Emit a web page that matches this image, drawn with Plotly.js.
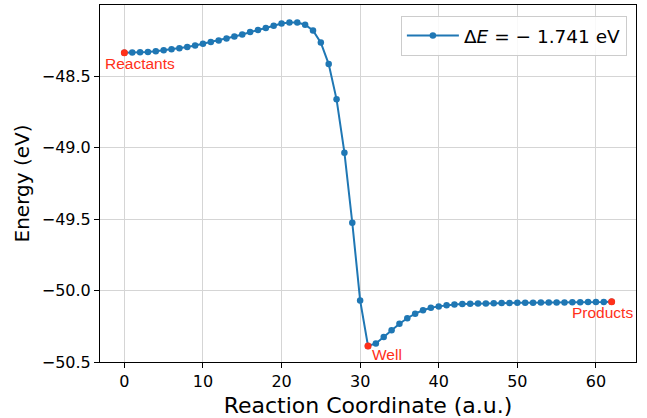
<!DOCTYPE html>
<html>
<head>
<meta charset="utf-8">
<script src="https://cdn.plot.ly/plotly-3.0.1.min.js"></script>
<style>html,body{margin:0;padding:0;background:#fff;}</style>
</head>
<body>
<div id="chart" style="width:647px;height:418px;"></div>
<script>
const coord = [];
for (let i = 0; i <= 62; i++) coord.push(i);

const energy = [
  -48.337, -48.336, -48.334, -48.332, -48.327, -48.320, -48.313, -48.306, -48.297, -48.286,
  -48.274, -48.262, -48.251, -48.237, -48.223, -48.209, -48.192, -48.178, -48.164, -48.148,
  -48.133, -48.125, -48.125, -48.141, -48.181, -48.266, -48.416, -48.663, -49.036, -49.526,
  -50.069, -50.388, -50.370, -50.325, -50.278, -50.232, -50.194, -50.162, -50.138, -50.121,
  -50.111, -50.103, -50.098, -50.095, -50.093, -50.091, -50.090, -50.089, -50.088, -50.087,
  -50.086, -50.085, -50.085, -50.084, -50.084, -50.083, -50.083, -50.082, -50.082, -50.081,
  -50.081, -50.080, -50.078
];

const specialIdx = [0, 31, 62];
const specialLabels = ["Reactants", "Well", "Products"];
const legendLabel = "Δ<i>E</i> = − 1.741 eV";
const xTitle = "Reaction Coordinate (a.u.)";
const yTitle = "Energy (eV)";
const yTickVals = [-48.5, -49.0, -49.5, -50.0, -50.5];
const yTickText = ["−48.5", "−49.0", "−49.5", "−50.0", "−50.5"];
const xTickVals = [0, 10, 20, 30, 40, 50, 60];

const blue = "#1f77b4";
const red = "#ff3019";

const traces = [
  {
    x: coord, y: energy, type: "scatter", mode: "lines+markers",
    name: legendLabel,
    line: {color: blue, width: 2},
    marker: {color: blue, size: 6.5},
    showlegend: true
  },
  {
    x: specialIdx.map(i => coord[i]), y: specialIdx.map(i => energy[i]),
    type: "scatter", mode: "markers",
    marker: {color: red, size: 7},
    showlegend: false, hoverinfo: "skip"
  }
];

const shifts = [[16, -10.5], [19, -9], [-9, -11]];
const annotations = specialIdx.map((i, k) => ({
  x: coord[i], y: energy[i], xref: "x", yref: "y",
  text: specialLabels[k], showarrow: false,
  xanchor: "center", yanchor: "middle",
  xshift: shifts[k][0], yshift: shifts[k][1],
  font: {family: "Liberation Sans, Arial, sans-serif", size: 15.5, color: red}
}));

const axisCommon = {
  showline: true, mirror: true, linecolor: "#000", linewidth: 1,
  ticks: "outside", ticklen: 5, tickwidth: 1, tickcolor: "#000",
  showgrid: true, gridcolor: "#d5d5d5", gridwidth: 1,
  zeroline: false, automargin: false,
  tickfont: {family: "DejaVu Sans, sans-serif", size: 16, color: "#000"}
};

const layout = {
  width: 647, height: 418,
  margin: {l: 100, r: 11, t: 5, b: 56},
  paper_bgcolor: "#fff", plot_bgcolor: "#fff",
  font: {family: "DejaVu Sans, sans-serif", color: "#000"},
  xaxis: Object.assign({}, axisCommon, {
    range: [-3.1, 65.1], tickvals: xTickVals,
    title: {text: xTitle, font: {family: "DejaVu Sans, sans-serif", size: 22, color: "#000"}, standoff: 8}
  }),
  yaxis: Object.assign({}, axisCommon, {
    range: [-50.5, -48.003], tickvals: yTickVals, ticktext: yTickText,
    title: {text: yTitle, font: {family: "DejaVu Sans, sans-serif", size: 20, color: "#000"}, standoff: 6}
  }),
  legend: {
    x: 0.983, y: 0.969, xanchor: "right", yanchor: "top",
    itemwidth: 52,
    bgcolor: "rgba(255,255,255,0.85)", bordercolor: "#cccccc", borderwidth: 1,
    font: {family: "DejaVu Sans, sans-serif", size: 18.5, color: "#000"}
  },
  annotations: annotations,
  showlegend: true
};

Plotly.newPlot("chart", traces, layout, {displayModeBar: false, staticPlot: true});
</script>
</body>
</html>
